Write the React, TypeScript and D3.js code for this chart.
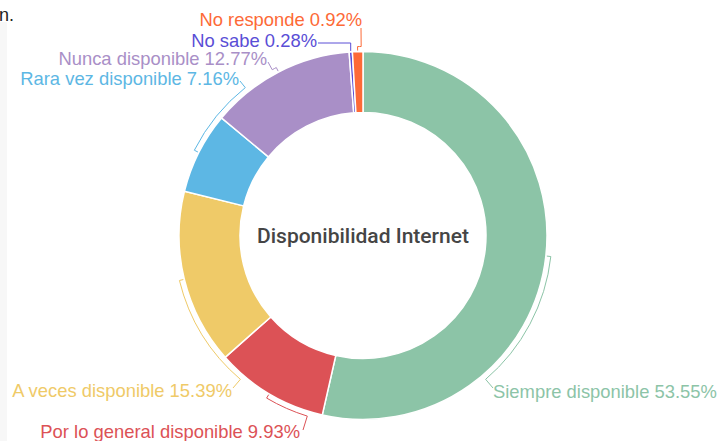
import React, { useEffect, useRef } from 'react'
import * as d3 from 'd3'

// datos del gráfico
const categories = [
  'Siempre disponible',
  'Por lo general disponible',
  'A veces disponible',
  'Rara vez disponible',
  'Nunca disponible',
  'No sabe',
  'No responde'
]
const percents = [53.55, 9.93, 15.39, 7.16, 12.77, 0.28, 0.92]
const colors = ['#8cc4a7', '#dc5256', '#efca68', '#5db7e4', '#a98fc7', '#5a4ed6', '#fd6a37']
const chartTitle = 'Disponibilidad Internet'

// posición de las etiquetas (texto + fin de la línea guía)
const labelLayout = [
  { x: 493, y: 398, anchor: 'start', lx: 493, ly: 388, elbow: false },
  { x: 300, y: 438, anchor: 'end', lx: 303, ly: 430, elbow: false },
  { x: 232, y: 397, anchor: 'end', lx: 233, ly: 388, elbow: false },
  { x: 239, y: 85, anchor: 'end', lx: 240, ly: 81, elbow: false },
  { x: 267, y: 65, anchor: 'end', lx: 268, ly: 62, elbow: false },
  { x: 317, y: 47, anchor: 'end', lx: 318, ly: 43, elbow: true },
  { x: 362, y: 26, anchor: 'end', lx: 361, ly: 28, elbow: false }
]

const App = () => {
  const ref = useRef<SVGSVGElement>(null)

  useEffect(() => {
    const width = 724
    const height = 441
    const cx = 363
    const cy = 235.5
    const outerR = 184
    const innerR = 123
    const bracketR = 189

    const svg = d3.select(ref.current)
    svg.selectAll('*').remove()
    svg.attr('width', width).attr('height', height)

    // fondo
    svg.append('rect').attr('width', width).attr('height', height).attr('fill', '#fff')
    svg.append('rect').attr('x', 0).attr('y', 22).attr('width', 7).attr('height', height - 22).attr('fill', '#f7f7f7')
    svg
      .append('text')
      .attr('x', 14)
      .attr('y', 21)
      .attr('text-anchor', 'end')
      .attr('font-family', 'Liberation Sans, Arial, sans-serif')
      .attr('font-size', 18)
      .attr('fill', '#222')
      .text('n.')

    const pie = d3
      .pie<number>()
      .sort(null)
      .value((d) => d)
    const arcs = pie(percents)

    const arc = d3.arc<d3.PieArcDatum<number>>().innerRadius(innerR).outerRadius(outerR)

    const g = svg.append('g').attr('transform', `translate(${cx},${cy})`)
    g.selectAll('path')
      .data(arcs)
      .enter()
      .append('path')
      .attr('d', arc)
      .attr('fill', (d, i) => colors[i])
      .attr('stroke', '#fff')
      .attr('stroke-width', 1.5)

    const toXY = (a: number, r: number): [number, number] => [cx + r * Math.sin(a), cy - r * Math.cos(a)]

    // líneas guía tipo corchete
    arcs.forEach((d, i) => {
      const lay = labelLayout[i]
      const a0 = (d.startAngle + d.endAngle) / 2
      const p = d3.path()
      if (lay.elbow) {
        const [x0, y0] = toXY(a0, outerR + 1)
        p.moveTo(x0, y0)
        p.lineTo(x0, lay.ly)
        p.lineTo(lay.lx, lay.ly)
      } else {
        let a1 = Math.atan2(lay.lx - cx, -(lay.ly - cy))
        if (a1 < 0) a1 += Math.PI * 2
        const [tx, ty] = toXY(a0, bracketR - 4)
        p.moveTo(tx, ty)
        const [sx, sy] = toXY(a0, bracketR)
        p.lineTo(sx, sy)
        p.arc(cx, cy, bracketR, a0 - Math.PI / 2, a1 - Math.PI / 2, a1 < a0)
        p.lineTo(lay.lx, lay.ly)
      }
      svg
        .append('path')
        .attr('d', p.toString())
        .attr('fill', 'none')
        .attr('stroke', colors[i])
        .attr('stroke-width', 1)
    })

    // etiquetas
    svg
      .selectAll('text.label')
      .data(arcs)
      .enter()
      .append('text')
      .attr('class', 'label')
      .attr('x', (d, i) => labelLayout[i].x)
      .attr('y', (d, i) => labelLayout[i].y)
      .attr('text-anchor', (d, i) => labelLayout[i].anchor)
      .attr('font-family', 'Liberation Sans, Arial, sans-serif')
      .attr('font-size', 18.4)
      .attr('fill', (d, i) => colors[i])
      .text((d, i) => `${categories[i]} ${percents[i].toFixed(2)}%`)

    // título central
    svg
      .append('text')
      .attr('x', cx)
      .attr('y', 243)
      .attr('text-anchor', 'middle')
      .attr('font-family', 'Roboto, sans-serif')
      .attr('font-weight', 500)
      .attr('font-size', 21)
      .attr('fill', '#454545')
      .text(chartTitle)
  }, [])

  return <svg ref={ref} style={{ position: 'absolute', left: 0, top: 0, display: 'block' }} />
}

export default App
